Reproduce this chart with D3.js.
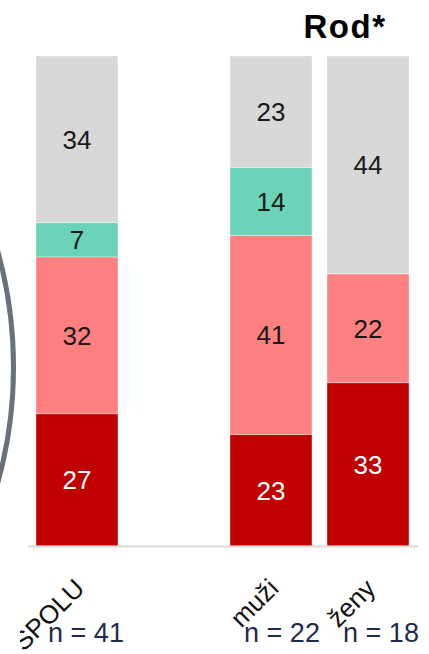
<!DOCTYPE html>
<html>
<head>
<meta charset="utf-8">
<script src="https://cdn.jsdelivr.net/npm/d3@7"></script>
<style>
  html, body { margin: 0; padding: 0; background: #fff; }
  svg { display: block; }
</style>
</head>
<body>
<svg id="chart" width="429" height="654"></svg>
<script>
// ---- data ----
const categories = ["SPOLU", "muži", "ženy"];
const nLabels = ["n = 41", "n = 22", "n = 18"];
const seriesKeys = ["s1", "s2", "s3", "s4"]; // bottom -> top
const s1 = [27, 23, 33]; // dark red
const s2 = [32, 41, 22]; // light red
const s3 = [7, 14, 0];   // teal
const s4 = [34, 23, 44]; // grey
const title = "Rod*";

const colors = { s1: "#C00000", s2: "#FF8080", s3: "#6BD3B7", s4: "#D8D8D8" };
const labelColors = { s1: "#ffffff", s2: "#1a1a1a", s3: "#1a1a1a", s4: "#1a1a1a" };

const rows = categories.map((c, i) => ({ cat: c, s1: s1[i], s2: s2[i], s3: s3[i], s4: s4[i] }));

const svg = d3.select("#chart");
const W = 429, H = 654;

// band scale with a spacer slot between total and gender groups
const slots = ["SPOLU", "__gap__", "muži", "ženy"];
const x = d3.scaleBand().domain(slots).range([28.5, 416.5]).paddingInner(0.155).paddingOuter(0.0775);
const y = d3.scaleLinear().domain([0, 1]).range([546, 56]);

const stack = d3.stack().keys(seriesKeys).offset(d3.stackOffsetExpand);
const stacked = stack(rows);

// decorative arc on the left
svg.append("ellipse")
  .attr("cx", -417).attr("cy", 367).attr("rx", 430.5).attr("ry", 431)
  .attr("fill", "none").attr("stroke", "#6B7178").attr("stroke-width", 5);

// bars
const g = svg.append("g");
stacked.forEach(layer => {
  const key = layer.key;
  layer.forEach((d, i) => {
    if (d[1] - d[0] <= 0) return;
    const cx = x(d.data.cat);
    g.append("rect")
      .attr("x", cx).attr("width", x.bandwidth())
      .attr("y", y(d[1])).attr("height", y(d[0]) - y(d[1]))
      .attr("fill", colors[key])
      .attr("stroke", "#ffffff").attr("stroke-opacity", 0.35).attr("stroke-width", 1);
    g.append("text")
      .attr("x", cx + x.bandwidth() / 2)
      .attr("y", (y(d[0]) + y(d[1])) / 2)
      .attr("dy", "0.36em")
      .attr("text-anchor", "middle")
      .attr("font-family", "'Liberation Sans', Arial, sans-serif")
      .attr("font-size", 26)
      .attr("fill", labelColors[key])
      .text(d.data[key]);
  });
});

// baseline
svg.append("line")
  .attr("x1", 28).attr("x2", 418).attr("y1", y(0) + 0.5).attr("y2", y(0) + 0.5)
  .attr("stroke", "#D9D9D9").attr("stroke-width", 2);

// title
svg.append("text")
  .attr("x", 345).attr("y", 38)
  .attr("text-anchor", "middle")
  .attr("font-family", "'Liberation Sans', Arial, sans-serif")
  .attr("font-weight", "bold")
  .attr("font-size", 33)
  .attr("letter-spacing", 1.5)
  .attr("fill", "#000")
  .text(title);

// category labels (rotated), clipped at the left
svg.append("clipPath").attr("id", "lblclip")
  .append("rect").attr("x", 20).attr("y", 550).attr("width", W).attr("height", 104);
const lg = svg.append("g").attr("clip-path", "url(#lblclip)");
categories.forEach(c => {
  const cx = x(c) + x.bandwidth() / 2 + 9;
  lg.append("text")
    .attr("transform", `translate(${cx},590) rotate(-45)`)
    .attr("text-anchor", "end")
    .attr("font-family", "'Liberation Sans', Arial, sans-serif")
    .attr("font-size", 26)
    .attr("fill", "#111")
    .text(c);
});

// n labels
categories.forEach((c, i) => {
  const cx = x(c) + x.bandwidth() / 2 + 9 + i * 2;
  svg.append("text")
    .attr("x", cx).attr("y", 642)
    .attr("text-anchor", "middle")
    .attr("font-family", "'Liberation Sans', Arial, sans-serif")
    .attr("font-size", 27)
    .attr("fill", "#1F2A4E")
    .text(nLabels[i]);
});
</script>
</body>
</html>
